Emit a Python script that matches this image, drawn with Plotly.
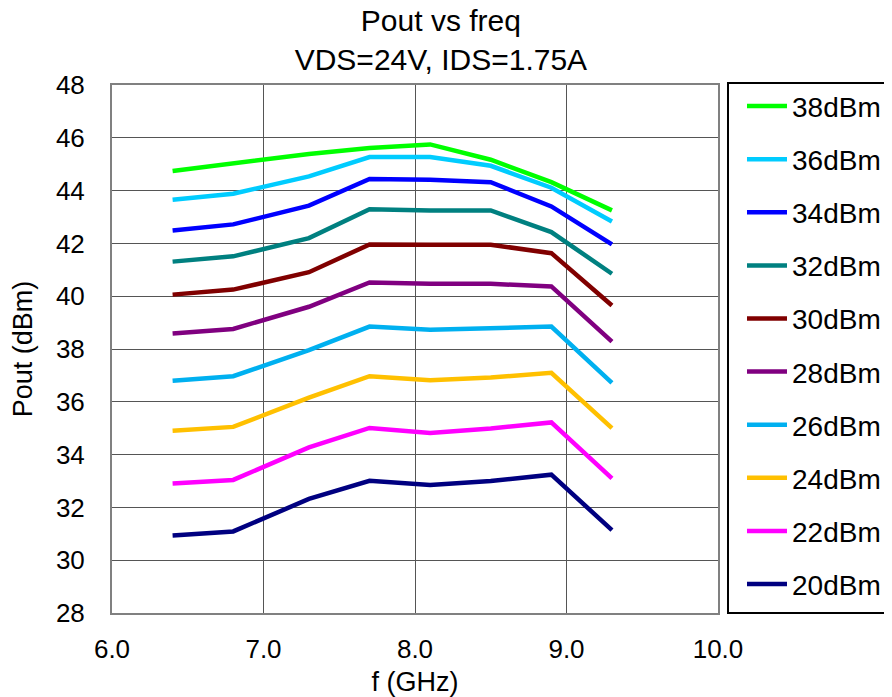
import plotly.graph_objects as go

freq = [6.4, 6.8, 7.3, 7.7, 8.1, 8.5, 8.9, 9.3]

pin_labels = ["38dBm", "36dBm", "34dBm", "32dBm", "30dBm",
              "28dBm", "26dBm", "24dBm", "22dBm", "20dBm"]

pout_38 = [44.74, 45.02, 45.39, 45.61, 45.75, 45.17, 44.32, 43.25]
pout_36 = [43.65, 43.88, 44.54, 45.27, 45.27, 44.94, 44.11, 42.83]
pout_34 = [42.49, 42.72, 43.43, 44.44, 44.41, 44.32, 43.40, 41.96]
pout_32 = [41.31, 41.51, 42.20, 43.29, 43.25, 43.25, 42.43, 40.85]
pout_30 = [40.06, 40.25, 40.91, 41.96, 41.95, 41.95, 41.63, 39.65]
pout_28 = [38.59, 38.76, 39.60, 40.52, 40.47, 40.47, 40.37, 38.28]
pout_26 = [36.80, 36.97, 37.96, 38.85, 38.73, 38.78, 38.85, 36.72]
pout_24 = [34.90, 35.05, 36.16, 36.97, 36.82, 36.92, 37.10, 35.00]
pout_22 = [32.91, 33.04, 34.27, 35.01, 34.82, 34.99, 35.22, 33.10]
pout_20 = [30.94, 31.09, 32.32, 33.01, 32.85, 33.00, 33.24, 31.14]

series = [pout_38, pout_36, pout_34, pout_32, pout_30,
          pout_28, pout_26, pout_24, pout_22, pout_20]
colors = ["#00FF00", "#00CCFF", "#0000FF", "#008080", "#800000",
          "#800080", "#00B0F0", "#FFC000", "#FF00FF", "#000080"]

x_ticks = [6.0, 7.0, 8.0, 9.0, 10.0]
y_ticks = list(range(28, 49, 2))

FONT = "Liberation Sans, Arial, sans-serif"

fig = go.Figure()
for name, vals, col in zip(pin_labels, series, colors):
    fig.add_trace(go.Scatter(
        x=freq, y=vals, mode="lines", name=name, legendgroup=name,
        line=dict(color=col, width=4.5),
    ))

W, H = 884, 689
fig.update_layout(
    width=W, height=H,
    margin=dict(l=104, r=174, t=77, b=84, autoexpand=False),
    paper_bgcolor="white", plot_bgcolor="white",
    font=dict(family=FONT, size=26, color="black"),
    title=dict(text="Pout vs freq<br>VDS=24V, IDS=1.75A",
               x=0.4897, xanchor="center", y=0.9666, yanchor="top",
               font=dict(family=FONT, size=30, color="black")),
    showlegend=True,
    legend=dict(
        x=1.0396, xanchor="left", y=0.0068, yanchor="bottom",
        borderwidth=0, bgcolor="rgba(0,0,0,0)",
        font=dict(family=FONT, size=28, color="black"),
        tracegroupgap=13.7, itemwidth=40,
    ),
    shapes=[dict(type="rect", xref="paper", yref="paper",
                 x0=1.0165, x1=1.2855, y0=0.0, y1=1.0038,
                 line=dict(color="black", width=2), fillcolor="rgba(0,0,0,0)")],
)

fig.update_xaxes(
    range=[6.0, 10.0], tickvals=x_ticks, ticktext=[f"{v:.1f}" for v in x_ticks],
    showgrid=True, gridcolor="#555555", gridwidth=1,
    showline=True, linecolor="#808080", linewidth=2, mirror=True,
    zeroline=False, ticks="", tickfont=dict(size=26), ticklabelstandoff=12,
    title=dict(text="f (GHz)", font=dict(size=27), standoff=9),
)
fig.update_yaxes(
    range=[28, 48], tickvals=y_ticks,
    showgrid=True, gridcolor="#555555", gridwidth=1,
    showline=True, linecolor="#808080", linewidth=2, mirror=True,
    zeroline=False, ticks="", tickfont=dict(size=26), ticklabelstandoff=20,
    title=dict(text="Pout (dBm)", font=dict(size=27), standoff=18),
)

fig.write_html("out.html")
